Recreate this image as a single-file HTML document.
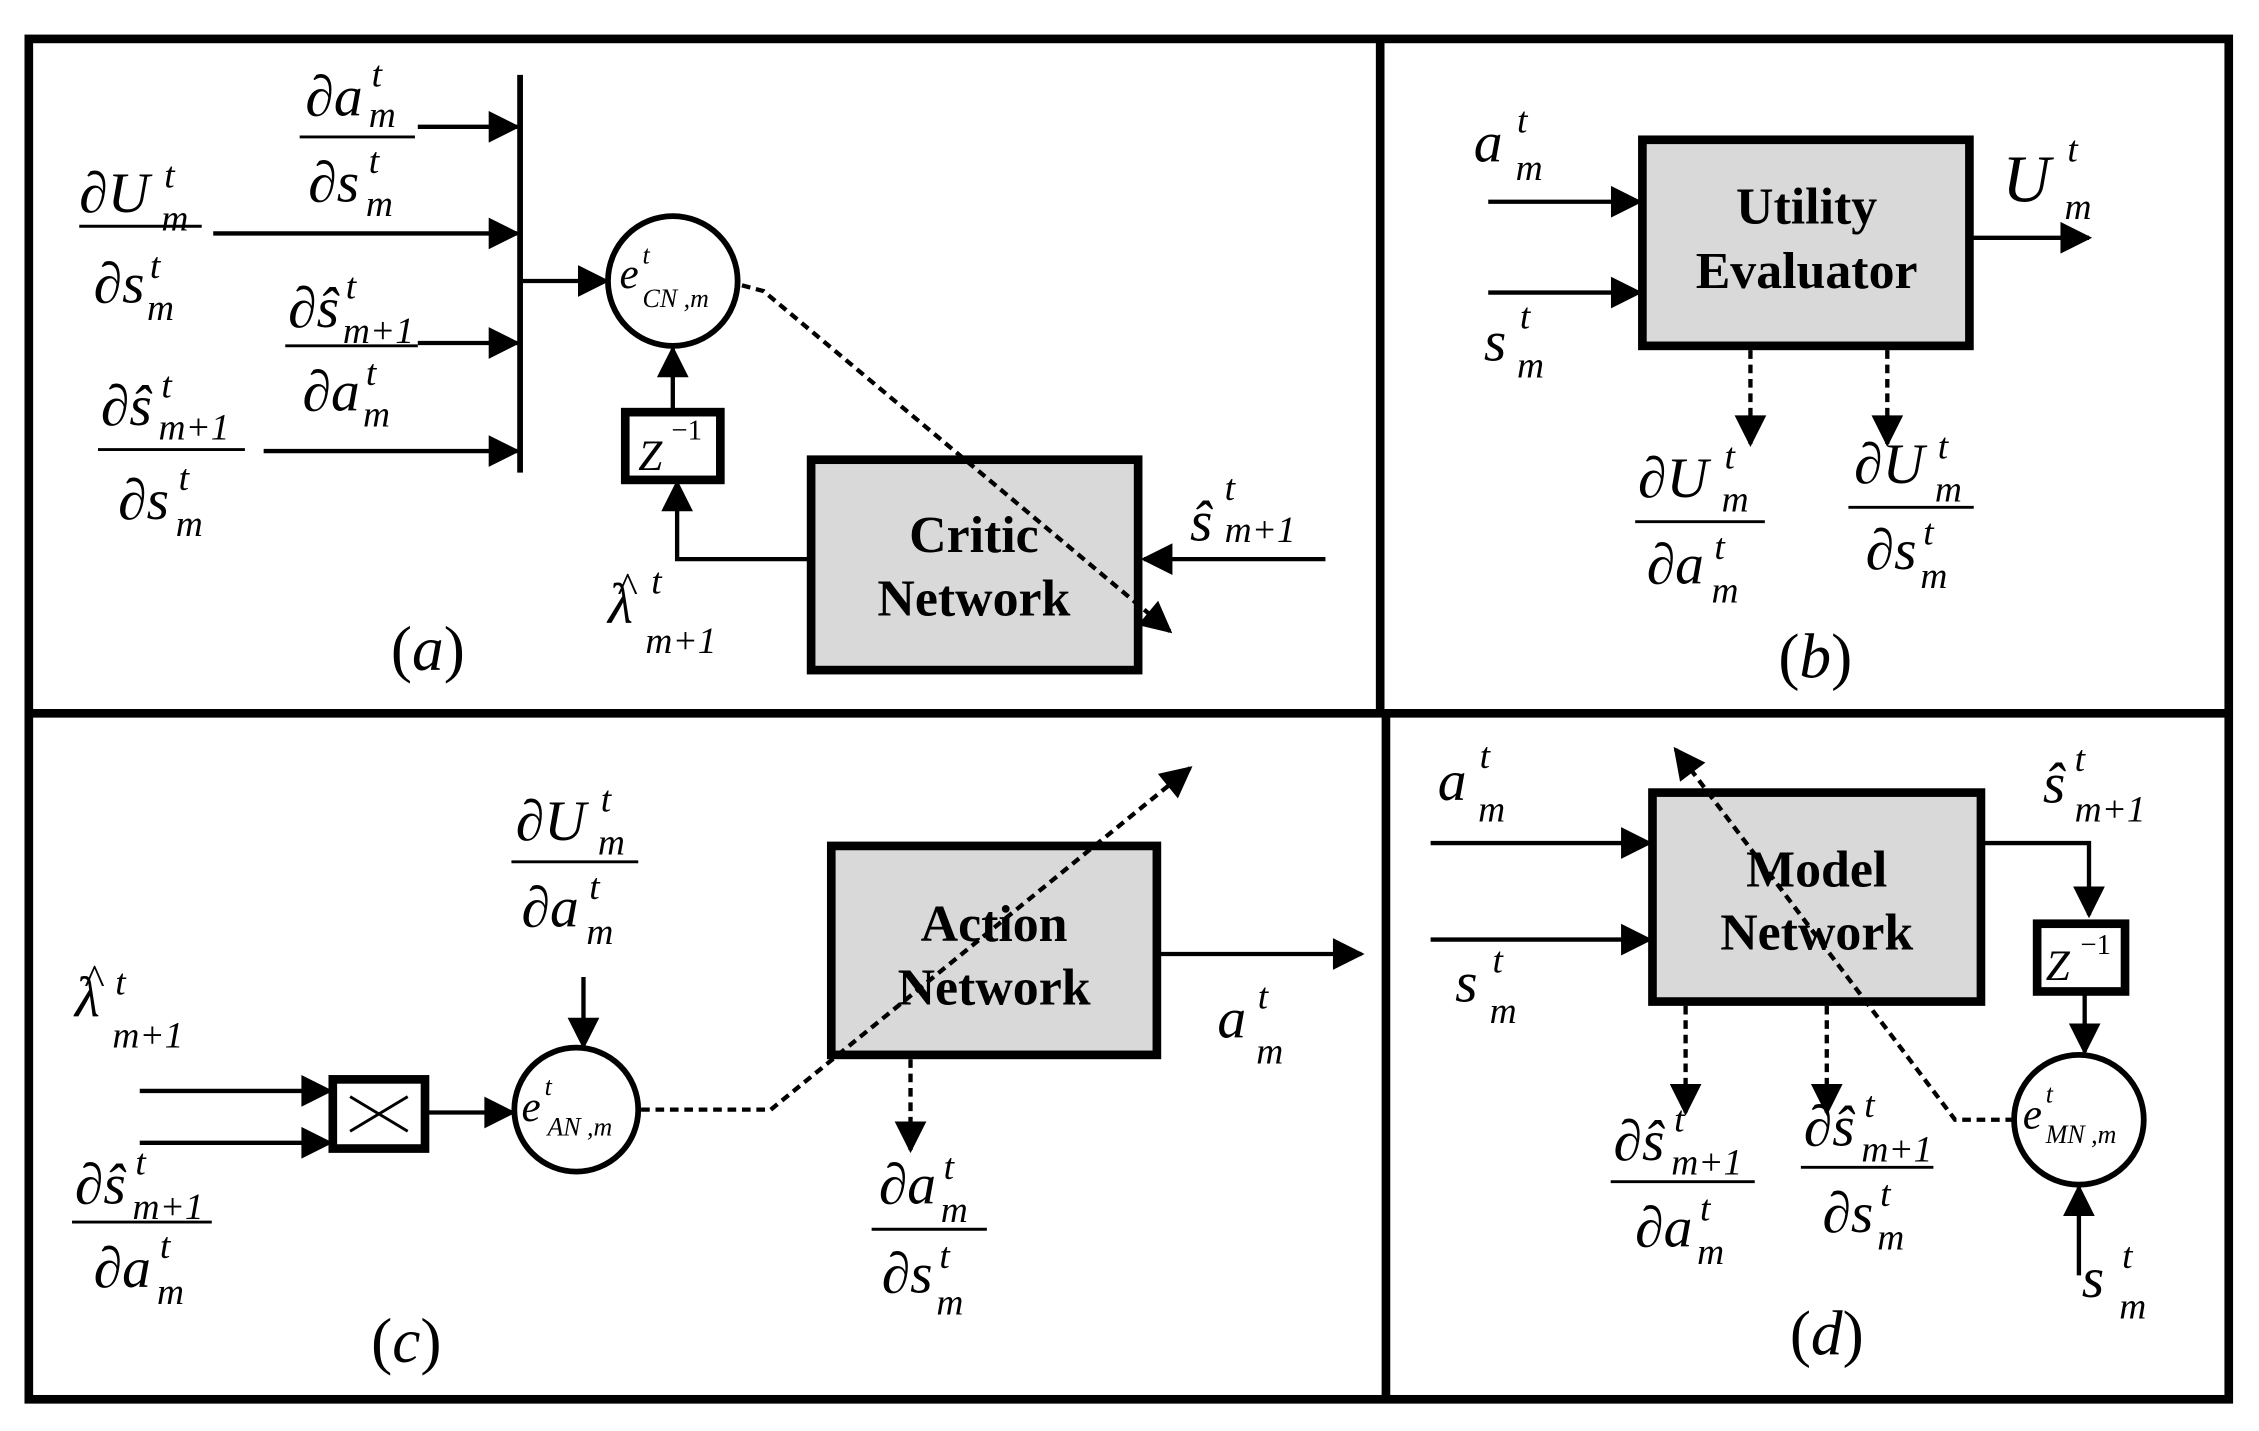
<!DOCTYPE html>
<html><head><meta charset="utf-8"><style>
html,body{margin:0;padding:0;background:#fff;}
svg{display:block;}
text{font-family:"Liberation Serif","DejaVu Serif",serif;fill:#000;}
.m{font-style:italic;font-size:40px;}
.s{font-style:italic;font-size:26px;}
.b{font-weight:bold;font-size:36px;}
</style></head><body>
<svg width="2259" height="1431" viewBox="0 0 1568 993" preserveAspectRatio="none" xmlns="http://www.w3.org/2000/svg">
<defs>
<marker id="A" viewBox="0 0 10 10" refX="9" refY="5" markerWidth="26" markerHeight="22" markerUnits="userSpaceOnUse" orient="auto"><path d="M0,0 L10,5 L0,10 z" fill="#000"/></marker>
</defs>
<g fill="none" stroke="#000">
<rect x="20" y="27" width="1527" height="944" stroke-width="6"/>
<line x1="958" y1="27" x2="958" y2="495" stroke-width="6"/>
<line x1="962" y1="495" x2="962" y2="971" stroke-width="6"/>
<line x1="20" y1="495" x2="1547" y2="495" stroke-width="6"/>
<!-- (a) -->
<line x1="361" y1="52" x2="361" y2="328" stroke-width="4"/>
<g stroke-width="3" marker-end="url(#A)">
<line x1="290" y1="88" x2="359" y2="88"/>
<line x1="148" y1="162" x2="359" y2="162"/>
<line x1="290" y1="238" x2="359" y2="238"/>
<line x1="183" y1="313" x2="359" y2="313"/>
<line x1="363" y1="195" x2="421" y2="195"/>
<line x1="467" y1="285" x2="467" y2="242"/>
<polyline points="562,388 470,388 470,335"/>
<line x1="920" y1="388" x2="794" y2="388"/>
</g>
<circle cx="467" cy="195" r="45" stroke-width="4"/>
<rect x="434" y="286" width="66" height="47" stroke-width="6"/>
<rect x="563" y="319" width="227" height="146" fill="#d9d9d9" stroke-width="6"/>
<polyline points="515,198 530,202 812,438" stroke-width="3" stroke-dasharray="6,4" marker-end="url(#A)"/>
<!-- (b) -->
<rect x="1140" y="97" width="227" height="143" fill="#d9d9d9" stroke-width="6"/>
<g stroke-width="3" marker-end="url(#A)">
<line x1="1033" y1="140" x2="1138" y2="140"/>
<line x1="1033" y1="203" x2="1138" y2="203"/>
<line x1="1367" y1="165" x2="1450" y2="165"/>
<line x1="1215" y1="243" x2="1215" y2="308" stroke-dasharray="6,4"/>
<line x1="1310" y1="243" x2="1310" y2="308" stroke-dasharray="6,4"/>
</g>
<!-- (c) -->
<rect x="577" y="587" width="226" height="145" fill="#d9d9d9" stroke-width="6"/>
<rect x="231" y="749" width="64" height="48" stroke-width="6"/>
<line x1="243" y1="761" x2="283" y2="785" stroke-width="2"/>
<line x1="283" y1="761" x2="243" y2="785" stroke-width="2"/>
<circle cx="400" cy="770" r="43" stroke-width="4"/>
<g stroke-width="3" marker-end="url(#A)">
<line x1="803" y1="662" x2="945" y2="662"/>
<line x1="97" y1="757" x2="229" y2="757"/>
<line x1="97" y1="793" x2="229" y2="793"/>
<line x1="295" y1="772" x2="356" y2="772"/>
<line x1="405" y1="678" x2="405" y2="726"/>
<polyline points="445,770 535,770 826,533" stroke-dasharray="6,4"/>
<line x1="632" y1="735" x2="632" y2="798" stroke-dasharray="6,4"/>
</g>
<!-- (d) -->
<rect x="1147" y="550" width="228" height="145" fill="#d9d9d9" stroke-width="6"/>
<rect x="1414" y="641" width="61" height="47" stroke-width="6"/>
<circle cx="1443" cy="777" r="45" stroke-width="4"/>
<g stroke-width="3" marker-end="url(#A)">
<line x1="993" y1="585" x2="1145" y2="585"/>
<line x1="993" y1="652" x2="1145" y2="652"/>
<polyline points="1375,585 1450,585 1450,635"/>
<line x1="1447" y1="688" x2="1447" y2="730"/>
<line x1="1443" y1="885" x2="1443" y2="824"/>
<polyline points="1398,777 1357,777 1163,520" stroke-dasharray="6,4"/>
<line x1="1170" y1="698" x2="1170" y2="772" stroke-dasharray="6,4"/>
<line x1="1268" y1="698" x2="1268" y2="772" stroke-dasharray="6,4"/>
</g>
<!-- fraction bars -->
<g stroke-width="2">
<line x1="208" y1="95" x2="288" y2="95"/>
<line x1="55" y1="157" x2="140" y2="157"/>
<line x1="198" y1="240" x2="290" y2="240"/>
<line x1="68" y1="312" x2="170" y2="312"/>
<line x1="1135" y1="362" x2="1225" y2="362"/>
<line x1="1283" y1="352" x2="1370" y2="352"/>
<line x1="355" y1="598" x2="443" y2="598"/>
<line x1="50" y1="848" x2="147" y2="848"/>
<line x1="605" y1="853" x2="685" y2="853"/>
<line x1="1118" y1="820" x2="1218" y2="820"/>
<line x1="1250" y1="810" x2="1342" y2="810"/>
</g>
</g>
<!-- text (a) -->
<text class="m" x="212" y="80">∂a</text><text class="s" x="258" y="60">t</text><text class="s" x="256" y="88">m</text>
<text class="m" x="214" y="140">∂s</text><text class="s" x="256" y="120">t</text><text class="s" x="254" y="150">m</text>
<text class="m" x="55" y="147">∂U</text><text class="s" x="114" y="130">t</text><text class="s" x="112" y="160">m</text>
<text class="m" x="65" y="210">∂s</text><text class="s" x="104" y="193">t</text><text class="s" x="102" y="222">m</text>
<text class="m" x="200" y="227">∂ŝ</text><text class="s" x="240" y="207">t</text><text class="s" x="238" y="238">m+1</text>
<text class="m" x="210" y="285">∂a</text><text class="s" x="254" y="267">t</text><text class="s" x="252" y="296">m</text>
<text class="m" x="70" y="295">∂ŝ</text><text class="s" x="112" y="276">t</text><text class="s" x="110" y="305">m+1</text>
<text class="m" x="82" y="360">∂s</text><text class="s" x="124" y="340">t</text><text class="s" x="122" y="372">m</text>
<text class="s" x="430" y="200" style="font-size:30px">e</text><text class="s" x="446" y="183" style="font-size:18px">t</text><text class="s" x="446" y="213" style="font-size:18px">CN ,m</text>
<text class="s" x="443" y="326" style="font-size:30px">Z</text><text x="466" y="305" style="font-size:20px">−1</text>
<text class="b" x="676" y="383" text-anchor="middle">Critic</text><text class="b" x="676" y="427" text-anchor="middle">Network</text>
<text class="m" x="826" y="375">ŝ</text><text class="s" x="850" y="347">t</text><text class="s" x="850" y="376">m+1</text>
<text class="m" x="422" y="432">λ</text><text class="m" x="428" y="418" style="font-size:30px">^</text><text class="s" x="452" y="412">t</text><text class="s" x="448" y="453">m+1</text>
<text x="297" y="465" text-anchor="middle" style="font-size:44px">(<tspan font-style="italic">a</tspan>)</text>
<!-- (b) -->
<text class="m" x="1023" y="112">a</text><text class="s" x="1053" y="92">t</text><text class="s" x="1052" y="125">m</text>
<text class="m" x="1030" y="250">s</text><text class="s" x="1055" y="228">t</text><text class="s" x="1053" y="262">m</text>
<text class="b" x="1254" y="155" text-anchor="middle">Utility</text><text class="b" x="1254" y="200" text-anchor="middle">Evaluator</text>
<text class="m" x="1390" y="140" style="font-size:46px">U</text><text class="s" x="1435" y="112">t</text><text class="s" x="1433" y="152">m</text>
<text class="m" x="1137" y="345">∂U</text><text class="s" x="1197" y="325">t</text><text class="s" x="1195" y="355">m</text>
<text class="m" x="1143" y="405">∂a</text><text class="s" x="1190" y="388">t</text><text class="s" x="1188" y="418">m</text>
<text class="m" x="1287" y="335">∂U</text><text class="s" x="1345" y="318">t</text><text class="s" x="1343" y="348">m</text>
<text class="m" x="1295" y="395">∂s</text><text class="s" x="1335" y="378">t</text><text class="s" x="1333" y="408">m</text>
<text x="1260" y="470" text-anchor="middle" style="font-size:44px">(<tspan font-style="italic">b</tspan>)</text>
<!-- (c) -->
<text class="m" x="358" y="583">∂U</text><text class="s" x="417" y="563">t</text><text class="s" x="415" y="593">m</text>
<text class="m" x="362" y="643">∂a</text><text class="s" x="409" y="624">t</text><text class="s" x="407" y="655">m</text>
<text class="m" x="52" y="705">λ</text><text class="m" x="58" y="690" style="font-size:30px">^</text><text class="s" x="80" y="690">t</text><text class="s" x="78" y="727">m+1</text>
<text class="m" x="52" y="835">∂ŝ</text><text class="s" x="94" y="815">t</text><text class="s" x="92" y="846">m+1</text>
<text class="m" x="65" y="893">∂a</text><text class="s" x="111" y="873">t</text><text class="s" x="109" y="905">m</text>
<text class="s" x="362" y="778" style="font-size:30px">e</text><text class="s" x="378" y="760" style="font-size:18px">t</text><text class="s" x="380" y="788" style="font-size:18px">AN ,m</text>
<text class="b" x="690" y="653" text-anchor="middle">Action</text><text class="b" x="690" y="697" text-anchor="middle">Network</text>
<text class="m" x="845" y="720">a</text><text class="s" x="873" y="700">t</text><text class="s" x="872" y="738">m</text>
<text class="m" x="610" y="835">∂a</text><text class="s" x="655" y="818">t</text><text class="s" x="653" y="848">m</text>
<text class="m" x="612" y="897">∂s</text><text class="s" x="652" y="880">t</text><text class="s" x="650" y="912">m</text>
<text x="282" y="945" text-anchor="middle" style="font-size:44px">(<tspan font-style="italic">c</tspan>)</text>
<!-- (d) -->
<text class="m" x="998" y="555">a</text><text class="s" x="1027" y="533">t</text><text class="s" x="1026" y="570">m</text>
<text class="m" x="1010" y="695">s</text><text class="s" x="1036" y="675">t</text><text class="s" x="1034" y="710">m</text>
<text class="b" x="1261" y="615" text-anchor="middle">Model</text><text class="b" x="1261" y="659" text-anchor="middle">Network</text>
<text class="m" x="1418" y="557">ŝ</text><text class="s" x="1440" y="535">t</text><text class="s" x="1440" y="570">m+1</text>
<text class="s" x="1420" y="680" style="font-size:30px">Z</text><text x="1444" y="662" style="font-size:20px">−1</text>
<text class="s" x="1404" y="783" style="font-size:30px">e</text><text class="s" x="1420" y="765" style="font-size:18px">t</text><text class="s" x="1420" y="793" style="font-size:18px">MN ,m</text>
<text class="m" x="1445" y="900">s</text><text class="s" x="1473" y="880">t</text><text class="s" x="1471" y="915">m</text>
<text class="m" x="1120" y="805">∂ŝ</text><text class="s" x="1162" y="785">t</text><text class="s" x="1160" y="815">m+1</text>
<text class="m" x="1135" y="865">∂a</text><text class="s" x="1180" y="847">t</text><text class="s" x="1178" y="877">m</text>
<text class="m" x="1252" y="795">∂ŝ</text><text class="s" x="1294" y="775">t</text><text class="s" x="1292" y="806">m+1</text>
<text class="m" x="1265" y="855">∂s</text><text class="s" x="1305" y="837">t</text><text class="s" x="1303" y="867">m</text>
<text x="1268" y="940" text-anchor="middle" style="font-size:44px">(<tspan font-style="italic">d</tspan>)</text>
</svg>
</body></html>
